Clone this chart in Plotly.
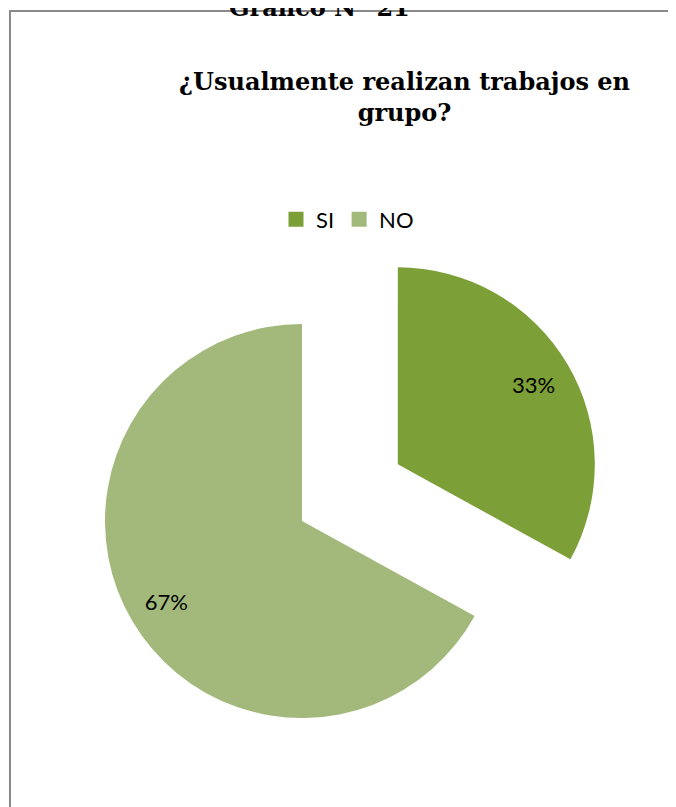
import math
import plotly.graph_objects as go

# ---- data ----
labels = ["SI", "NO"]
values = [33, 67]
colors = ["#7c9f37", "#a2b97b"]

heading_text = "Gráfico N° 21"
title_lines = ["¿Usualmente realizan trabajos en", "grupo?"]

# ---- layout / style constants (page pixels) ----
PAGE_OFFSET = 8      # default body margin of the written page
W, H = 676 - PAGE_OFFSET, 807 - PAGE_OFFSET
R = 197              # pie radius in px
CX, CY = 302, 521    # centre of the (unpulled) pie in page px
PULL = 0.565         # explosion of the first slice, fraction of radius
LABEL_HOLE = 0.6     # ring used to place the percentage labels
TRANSPARENT = "rgba(0,0,0,0)"

total = sum(values)
half_angle = math.radians(360.0 * values[0] / total / 2.0)
SIX = CX + PULL * R * math.sin(half_angle)
SIY = CY - PULL * R * math.cos(half_angle)


def px_x(v):
    return (v - PAGE_OFFSET) / W


def px_y(v):
    return 1 - (v - PAGE_OFFSET) / H


def dom(cx, cy):
    return dict(x=[px_x(cx - R), px_x(cx + R)],
                y=[px_y(cy + R), px_y(cy - R)])


common = dict(labels=labels, values=values, sort=False, direction="clockwise",
              rotation=0, showlegend=False, hoverinfo="none")

fig = go.Figure()

# slice shapes
fig.add_trace(go.Pie(**common, domain=dom(SIX, SIY), textinfo="none",
                     marker=dict(colors=[colors[0], TRANSPARENT], line=dict(width=0))))
fig.add_trace(go.Pie(**common, domain=dom(CX, CY), textinfo="none",
                     marker=dict(colors=[TRANSPARENT, colors[1]], line=dict(width=0))))

# percentage labels (transparent rings, library positions the text)
label_font = dict(family="Lato", size=22, color="#000000")
fig.add_trace(go.Pie(**common, domain=dom(SIX, SIY), hole=LABEL_HOLE,
                     texttemplate=["%{percent:.0%}", ""], textposition="inside",
                     insidetextorientation="horizontal", insidetextfont=label_font,
                     marker=dict(colors=[TRANSPARENT, TRANSPARENT], line=dict(width=0))))
fig.add_trace(go.Pie(**common, domain=dom(CX, CY), hole=LABEL_HOLE,
                     texttemplate=["", "%{percent:.0%}"], textposition="inside",
                     insidetextorientation="horizontal", insidetextfont=label_font,
                     marker=dict(colors=[TRANSPARENT, TRANSPARENT], line=dict(width=0))))

# legend entries
for lab, col in zip(labels, colors):
    fig.add_trace(go.Scatter(x=[None], y=[None], mode="markers", name=lab,
                             marker=dict(symbol="square", size=15, color=col),
                             hoverinfo="skip"))

serif = dict(family="DejaVu Serif", size=24, color="#000000")

fig.update_layout(
    width=W, height=H,
    margin=dict(l=0, r=0, t=0, b=0),
    paper_bgcolor="#ffffff", plot_bgcolor="rgba(0,0,0,0)",
    xaxis=dict(visible=False), yaxis=dict(visible=False),
    showlegend=True,
    legend=dict(orientation="h", x=px_x(276), xanchor="left",
                y=px_y(219.5), yanchor="middle",
                font=dict(family="Lato", size=22, color="#000000"),
                bgcolor="rgba(0,0,0,0)", itemclick=False, itemdoubleclick=False),
    shapes=[dict(type="rect", xref="paper", yref="paper",
                 x0=px_x(10), x1=1.2, y0=-0.2, y1=px_y(11),
                 line=dict(color="#8a8a8a", width=2), fillcolor=TRANSPARENT,
                 layer="below")],
    annotations=[
        dict(text="<b>" + heading_text + "</b>", xref="paper", yref="paper",
             x=px_x(319), y=px_y(7.7), xanchor="center", yanchor="middle",
             showarrow=False, font=serif),
        dict(text="<b>" + "<br>".join(title_lines) + "</b>", xref="paper", yref="paper",
             x=px_x(404), y=px_y(97), xanchor="center", yanchor="middle",
             showarrow=False, font=serif, align="center"),
    ],
)

fig.write_html("out.html")
